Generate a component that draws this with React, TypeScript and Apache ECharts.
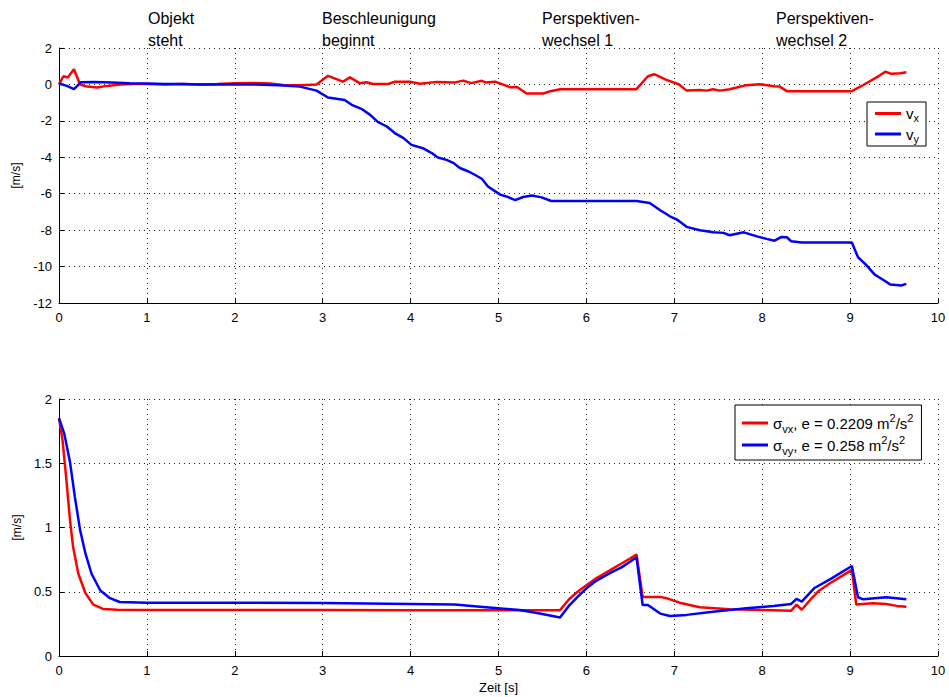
import React, { useEffect, useRef } from "react";
import * as echarts from "echarts";

const FONT = '"Liberation Sans", Arial, Helvetica, sans-serif';

// x ticks (time, s)
const xTicks = { min: 0, max: 10, interval: 1 };
const topY = { min: -12, max: 2, interval: 2 };
const botY = { min: 0, max: 2, interval: 0.5 };

// Top plot: velocities [t, v]
const vx: [number, number][] = [
  [0, 0], [0.05, 0.45], [0.1, 0.38], [0.17, 0.83], [0.24, 0.0], [0.3, -0.1], [0.43, -0.17],
  [0.55, -0.08], [0.7, 0.0], [0.85, 0.03], [1.0, 0.02], [1.2, 0.0], [1.4, 0.03], [1.6, 0.0],
  [1.8, 0.03], [2.0, 0.07], [2.2, 0.08], [2.4, 0.05], [2.55, -0.03], [2.75, -0.05], [2.93, 0.0],
  [3.06, 0.47], [3.23, 0.15], [3.31, 0.39], [3.42, 0.07], [3.5, 0.12], [3.57, 0.02], [3.74, 0.02],
  [3.82, 0.15], [3.99, 0.15], [4.11, 0.04], [4.3, 0.14], [4.49, 0.1], [4.6, 0.21], [4.69, 0.07],
  [4.81, 0.2], [4.86, 0.1], [4.96, 0.15], [5.13, -0.15], [5.21, -0.14], [5.32, -0.5], [5.51, -0.5],
  [5.59, -0.37], [5.7, -0.26], [6.57, -0.26], [6.7, 0.45], [6.77, 0.56], [6.91, 0.25], [7.05, 0.01],
  [7.14, -0.34], [7.29, -0.3], [7.37, -0.34], [7.44, -0.26], [7.52, -0.34], [7.63, -0.26],
  [7.82, -0.04], [7.97, 0.01], [8.13, -0.1], [8.2, -0.12], [8.28, -0.37], [9.02, -0.37],
  [9.15, -0.03], [9.34, 0.5], [9.4, 0.7], [9.47, 0.58], [9.57, 0.61], [9.64, 0.67],
];

const vy: [number, number][] = [
  [0, 0.05], [0.09, -0.08], [0.17, -0.26], [0.25, 0.12], [0.4, 0.13], [0.6, 0.1], [0.8, 0.07],
  [1.0, 0.05], [1.2, 0.03], [1.4, 0.02], [1.6, 0.0], [1.8, -0.01], [2.0, 0.01], [2.2, 0.0],
  [2.5, -0.05], [2.74, -0.12], [2.93, -0.34], [3.06, -0.72], [3.25, -0.85], [3.33, -1.12],
  [3.44, -1.34], [3.54, -1.67], [3.63, -2.07], [3.73, -2.31], [3.82, -2.67], [3.92, -2.95],
  [4.01, -3.32], [4.14, -3.5], [4.24, -3.77], [4.31, -4.01], [4.41, -4.14], [4.49, -4.32],
  [4.56, -4.59], [4.66, -4.78], [4.73, -4.96], [4.81, -5.18], [4.88, -5.6], [5.02, -6.05],
  [5.09, -6.15], [5.19, -6.35], [5.28, -6.18], [5.38, -6.1], [5.49, -6.2], [5.6, -6.4],
  [6.57, -6.4], [6.72, -6.51], [6.84, -6.91], [6.95, -7.24], [7.03, -7.42], [7.14, -7.82],
  [7.29, -8.01], [7.37, -8.06], [7.44, -8.12], [7.56, -8.15], [7.63, -8.28], [7.79, -8.12],
  [7.94, -8.34], [8.05, -8.48], [8.14, -8.58], [8.22, -8.37], [8.28, -8.39], [8.33, -8.61],
  [8.45, -8.68], [9.02, -8.68], [9.09, -9.49], [9.18, -9.89], [9.28, -10.44], [9.37, -10.71],
  [9.46, -10.99], [9.58, -11.04], [9.64, -10.95],
];

// Bottom plot: standard deviations [t, sigma]
const sigmaVx: [number, number][] = [
  [0, 1.85], [0.04, 1.68], [0.08, 1.4], [0.125, 1.06], [0.16, 0.85], [0.22, 0.64], [0.3, 0.49],
  [0.39, 0.4], [0.5, 0.366], [0.66, 0.36], [1, 0.358], [2, 0.358], [3, 0.358], [4, 0.357],
  [5, 0.357], [5.7, 0.357], [5.8, 0.44], [5.9, 0.5], [6.0, 0.55], [6.1, 0.6], [6.2, 0.64],
  [6.3, 0.68], [6.4, 0.72], [6.5, 0.76], [6.57, 0.79], [6.64, 0.46], [6.84, 0.46], [6.91, 0.45],
  [7.06, 0.415], [7.29, 0.38], [7.63, 0.363], [8.0, 0.358], [8.33, 0.353], [8.39, 0.4],
  [8.45, 0.36], [8.55, 0.44], [8.65, 0.51], [8.78, 0.57], [8.9, 0.62], [9.02, 0.67], [9.07, 0.4],
  [9.26, 0.41], [9.41, 0.405], [9.53, 0.39], [9.64, 0.384],
];

const sigmaVy: [number, number][] = [
  [0, 1.85], [0.06, 1.73], [0.125, 1.51], [0.18, 1.24], [0.24, 0.98], [0.3, 0.8], [0.37, 0.64],
  [0.47, 0.51], [0.58, 0.45], [0.69, 0.42], [1, 0.415], [2, 0.415], [3, 0.413], [4, 0.405],
  [4.5, 0.4], [4.79, 0.384], [5.24, 0.358], [5.47, 0.33], [5.7, 0.3], [5.8, 0.39], [5.9, 0.46],
  [6.0, 0.527], [6.1, 0.58], [6.2, 0.62], [6.3, 0.656], [6.4, 0.69], [6.5, 0.735], [6.57, 0.768],
  [6.64, 0.397], [6.7, 0.397], [6.84, 0.33], [6.95, 0.311], [7.14, 0.32], [7.44, 0.345],
  [7.82, 0.371], [8.13, 0.39], [8.33, 0.405], [8.39, 0.444], [8.45, 0.423], [8.59, 0.527],
  [8.78, 0.6], [9.02, 0.7], [9.09, 0.457], [9.15, 0.441], [9.41, 0.457], [9.64, 0.441],
];

const annotations = [
  { text: "Objekt\nsteht", x: 148 },
  { text: "Beschleunigung\nbeginnt", x: 322 },
  { text: "Perspektiven-\nwechsel 1", x: 542 },
  { text: "Perspektiven-\nwechsel 2", x: 776 },
];

const legendLabels: Record<string, string> = {
  vx: "{n|v}{sub|x}",
  vy: "{n|v}{sub|y}",
  "σvx": "{n|σ}{sub|vx}{n|, e = 0.2209 m}{sup|2}{n|/s}{sup|2}",
  "σvy": "{n|σ}{sub|vy}{n|, e = 0.258 m}{sup|2}{n|/s}{sup|2}",
};

const richStyles = (lh: number) => ({
  n: { fontSize: 15, fontFamily: FONT, color: "#000", lineHeight: lh },
  sub: { fontSize: 11, fontFamily: FONT, color: "#000", lineHeight: 12, verticalAlign: "bottom" },
  sup: { fontSize: 11, fontFamily: FONT, color: "#000", lineHeight: 12, verticalAlign: "top" },
});

function xAxisCfg(gridIndex: number, withName: boolean) {
  return {
    type: "value",
    gridIndex,
    ...xTicks,
    name: withName ? "Zeit [s]" : "",
    nameLocation: "middle",
    nameGap: 25,
    nameTextStyle: { color: "#000", fontSize: 13, fontFamily: FONT },
    axisLine: { onZero: false, lineStyle: { color: "#000", width: 1 } },
    axisTick: { inside: true, length: 5, lineStyle: { color: "#000" } },
    axisLabel: { color: "#000", fontSize: 13, fontFamily: FONT, margin: 8 },
    splitLine: { show: true, lineStyle: { color: "#222", width: 1, type: [1, 4] } },
  };
}

function yAxisCfg(gridIndex: number, ticks: { min: number; max: number; interval: number }) {
  return {
    type: "value",
    gridIndex,
    ...ticks,
    name: "[m/s]",
    nameLocation: "middle",
    nameGap: 35,
    nameTextStyle: { color: "#000", fontSize: 12, fontFamily: FONT },
    axisLine: { show: true, onZero: false, lineStyle: { color: "#000", width: 1 } },
    axisTick: { show: true, inside: true, length: 5, lineStyle: { color: "#000" } },
    axisLabel: { color: "#000", fontSize: 13, fontFamily: FONT, margin: 7 },
    splitLine: { show: true, lineStyle: { color: "#222", width: 1, type: [1, 4] } },
  };
}

function lineSeries(name: string, data: [number, number][], color: string, idx: number) {
  return {
    name,
    type: "line",
    data,
    xAxisIndex: idx,
    yAxisIndex: idx,
    showSymbol: false,
    symbol: "none",
    lineStyle: { color, width: 2.5 },
    itemStyle: { color },
    color,
  };
}

export default function App() {
  const ref = useRef<HTMLDivElement>(null);
  useEffect(() => {
    if (!ref.current) return;
    const chart = echarts.init(ref.current, undefined, { renderer: "svg" });
    chart.setOption({
      animation: false,
      backgroundColor: "#fff",
      grid: [
        { left: 59, top: 48, width: 879, height: 255 },
        { left: 59, top: 399, width: 879, height: 257 },
      ],
      xAxis: [xAxisCfg(0, false), xAxisCfg(1, true)],
      yAxis: [yAxisCfg(0, topY), yAxisCfg(1, botY)],
      legend: [
        {
          data: ["vx", "vy"],
          orient: "vertical",
          left: 867,
          top: 102,
          padding: [4, 7, 2, 8],
          itemGap: 3,
          icon: "rect",
          itemWidth: 26,
          itemHeight: 3,
          selectedMode: false,
          borderColor: "#000",
          borderWidth: 1,
          borderRadius: 0,
          backgroundColor: "#fff",
          formatter: (n: string) => legendLabels[n],
          textStyle: { rich: richStyles(20) },
        },
        {
          data: ["σvx", "σvy"],
          orient: "vertical",
          left: 735,
          top: 405,
          padding: [7, 8, 4, 7],
          itemGap: 0,
          icon: "rect",
          itemWidth: 26,
          itemHeight: 3,
          selectedMode: false,
          borderColor: "#000",
          borderWidth: 1,
          borderRadius: 0,
          backgroundColor: "#fff",
          formatter: (n: string) => legendLabels[n],
          textStyle: { rich: richStyles(22) },
        },
      ],
      graphic: annotations.map((a) => ({
        type: "text",
        x: a.x,
        y: 7,
        silent: true,
        style: {
          text: a.text,
          fontSize: 16,
          fontFamily: FONT,
          lineHeight: 22,
          fill: "#000",
          verticalAlign: "top",
          align: "left",
        },
      })),
      series: [
        lineSeries("vx", vx, "#ff0000", 0),
        lineSeries("vy", vy, "#0000ff", 0),
        lineSeries("σvx", sigmaVx, "#ff0000", 1),
        lineSeries("σvy", sigmaVy, "#0000ff", 1),
      ],
    });
    return () => chart.dispose();
  }, []);
  return (
    <div
      ref={ref}
      style={{ position: "absolute", left: 0, top: 0, width: 949, height: 697, background: "#fff" }}
    />
  );
}
